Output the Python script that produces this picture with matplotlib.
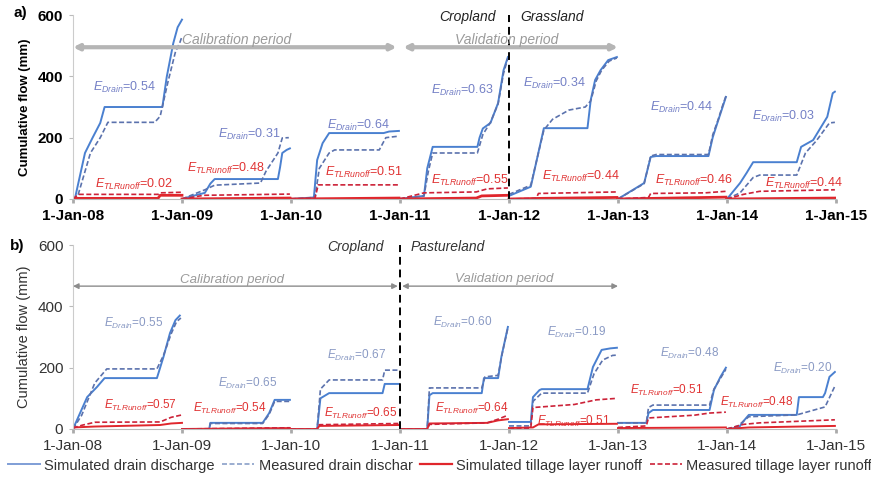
import matplotlib.pyplot as plt
import numpy as np
from matplotlib.lines import Line2D

plt.rcParams['font.family'] = ['Liberation Sans', 'DejaVu Sans']
plt.rcParams['mathtext.fontset'] = 'custom'
plt.rcParams['mathtext.rm'] = 'Liberation Sans'
plt.rcParams['mathtext.it'] = 'Liberation Sans:italic'

nan = np.nan
# x = years since 1-Jan-2008, each year cumulates from zero again
year_ticks = [0, 1, 2, 3, 4, 5, 6, 7]
tick_labels = ['1-Jan-08', '1-Jan-09', '1-Jan-10', '1-Jan-11', '1-Jan-12', '1-Jan-13', '1-Jan-14', '1-Jan-15']

# ---- panel a ----
a_sim_drain = [(0, 0), (0.02, 5), (0.11, 150), (0.18, 200), (0.25, 248), (0.29, 300), (0.82, 300), (0.86, 398), (0.92, 508), (0.96, 560), (1.0, 585), (nan, nan),
               (1.0, 0), (1.1, 10), (1.21, 20), (1.26, 50), (1.30, 65), (1.88, 65), (1.90, 104), (1.92, 150), (1.96, 160), (1.99, 165), (nan, nan),
               (2.0, 0), (2.21, 5), (2.24, 127), (2.29, 182), (2.35, 215), (2.85, 215), (2.9, 220), (2.99, 222), (nan, nan),
               (3.0, 0), (3.1, 5), (3.22, 10), (3.25, 100), (3.30, 170), (3.71, 170), (3.73, 200), (3.76, 230), (3.83, 248), (3.9, 313), (3.95, 420), (3.99, 463), (nan, nan),
               (4.0, 10), (4.2, 40), (4.32, 231), (4.72, 231), (4.75, 323), (4.79, 388), (4.84, 420), (4.91, 453), (4.99, 463), (nan, nan),
               (5.0, 0), (5.24, 52), (5.3, 137), (5.35, 140), (5.83, 140), (5.87, 202), (5.92, 257), (5.96, 300), (5.99, 333), (nan, nan),
               (6.0, 0), (6.12, 52), (6.18, 85), (6.24, 120), (6.64, 120), (6.68, 170), (6.79, 192), (6.92, 268), (6.97, 345), (6.99, 350)]
a_meas_drain = [(0, 0), (0.04, 5), (0.16, 150), (0.25, 200), (0.32, 250), (0.75, 250), (0.8, 270), (0.87, 380), (0.94, 480), (0.98, 510), (1.0, 530), (nan, nan),
                (1.0, 0), (1.21, 30), (1.3, 45), (1.72, 52), (1.77, 90), (1.88, 150), (1.92, 199), (1.98, 200), (nan, nan),
                (2.0, 0), (2.22, 5), (2.26, 100), (2.35, 150), (2.4, 160), (2.81, 160), (2.87, 200), (2.99, 205), (nan, nan),
                (3.0, 0), (3.22, 10), (3.26, 90), (3.30, 150), (3.71, 150), (3.76, 210), (3.83, 250), (3.9, 310), (3.95, 410), (3.99, 460), (nan, nan),
                (4.0, 15), (4.2, 45), (4.32, 225), (4.4, 260), (4.55, 290), (4.7, 300), (4.75, 320), (4.8, 385), (4.85, 420), (4.92, 450), (4.99, 460), (nan, nan),
                (5.0, 0), (5.24, 50), (5.3, 140), (5.35, 145), (5.83, 145), (5.87, 210), (5.92, 260), (5.96, 305), (5.99, 335), (nan, nan),
                (6.0, 0), (6.12, 20), (6.24, 70), (6.3, 78), (6.64, 78), (6.72, 150), (6.82, 190), (6.94, 248), (6.99, 250)]
a_sim_tl = [(0, 2), (0.78, 2), (0.8, 12), (1.0, 12), (nan, nan),
            (1.0, 0), (1.99, 3), (nan, nan),
            (2.0, 0), (2.99, 3), (nan, nan),
            (3.0, 0), (3.7, 3), (3.75, 10), (3.99, 12), (nan, nan),
            (4.0, 0), (4.3, 2), (4.99, 5), (nan, nan),
            (5.0, 0), (5.99, 6), (nan, nan),
            (6.0, 0), (6.99, 3)]
a_meas_tl = [(0, 0), (0.05, 15), (0.78, 15), (0.8, 20), (1.0, 22), (nan, nan),
             (1.0, 0), (1.2, 12), (1.99, 16), (nan, nan),
             (2.0, 0), (2.22, 2), (2.25, 46), (2.99, 46), (nan, nan),
             (3.0, 0), (3.22, 20), (3.7, 23), (3.8, 33), (3.99, 36), (nan, nan),
             (4.0, 0), (4.25, 2), (4.27, 18), (4.99, 23), (nan, nan),
             (5.0, 0), (5.28, 5), (5.3, 18), (5.8, 20), (5.99, 25), (nan, nan),
             (6.0, 0), (6.15, 15), (6.3, 25), (6.99, 30)]
a_e_drain = ['0.54', '0.31', '0.64', '0.63', '0.34', '0.44', '0.03']
a_e_tl = ['0.02', '0.48', '0.51', '0.55', '0.44', '0.46', '0.44']

# ---- panel b ----
b_sim_drain = [(0, 0), (0.13, 104), (0.22, 137), (0.29, 166), (0.77, 166), (0.83, 235), (0.89, 313), (0.94, 355), (0.98, 370), (nan, nan),
               (1.0, 0), (1.25, 0), (1.26, 20), (1.74, 20), (1.8, 52), (1.85, 95), (1.99, 95), (nan, nan),
               (2.0, 0), (2.24, 0), (2.27, 100), (2.35, 117), (2.84, 117), (2.86, 147), (2.99, 147), (nan, nan),
               (3.0, 0), (3.25, 0), (3.27, 110), (3.3, 117), (3.75, 117), (3.77, 166), (3.9, 166), (3.93, 235), (3.99, 333), (nan, nan),
               (4.0, 23), (4.2, 23), (4.22, 104), (4.28, 127), (4.3, 130), (4.72, 130), (4.77, 202), (4.85, 258), (4.93, 263), (4.99, 265), (nan, nan),
               (5.0, 20), (5.26, 20), (5.28, 52), (5.32, 62), (5.84, 62), (5.88, 127), (5.94, 170), (5.99, 200), (nan, nan),
               (6.0, 0), (6.11, 5), (6.15, 25), (6.2, 46), (6.64, 46), (6.66, 104), (6.88, 104), (6.9, 117), (6.94, 170), (6.99, 186)]
b_meas_drain = [(0, 0), (0.08, 45), (0.2, 150), (0.31, 196), (0.77, 196), (0.83, 240), (0.9, 310), (0.95, 350), (0.99, 362), (nan, nan),
                (1.0, 0), (1.25, 0), (1.26, 18), (1.74, 18), (1.8, 48), (1.85, 90), (1.99, 90), (nan, nan),
                (2.0, 0), (2.24, 0), (2.27, 130), (2.35, 160), (2.84, 160), (2.86, 192), (2.99, 192), (nan, nan),
                (3.0, 0), (3.25, 0), (3.27, 134), (3.75, 134), (3.78, 170), (3.9, 175), (3.94, 250), (3.99, 330), (nan, nan),
                (4.0, 10), (4.2, 10), (4.22, 90), (4.3, 117), (4.72, 117), (4.78, 180), (4.86, 225), (4.95, 240), (4.99, 241), (nan, nan),
                (5.0, 20), (5.26, 20), (5.28, 70), (5.32, 78), (5.84, 78), (5.88, 130), (5.94, 165), (5.99, 195), (nan, nan),
                (6.0, 0), (6.1, 10), (6.2, 40), (6.64, 46), (6.9, 72), (6.95, 110), (6.99, 140)]
b_sim_tl = [(0, 5), (0.2, 8), (0.8, 13), (0.9, 18), (1.0, 20), (nan, nan),
            (1.0, 0), (1.99, 3), (nan, nan),
            (2.0, 0), (2.24, 0), (2.26, 10), (2.99, 13), (nan, nan),
            (3.0, 0), (3.25, 0), (3.27, 18), (3.8, 20), (3.9, 28), (3.99, 32), (nan, nan),
            (4.0, 3), (4.22, 5), (4.27, 15), (4.99, 17), (nan, nan),
            (5.0, 3), (5.99, 5), (nan, nan),
            (6.0, 0), (6.2, 5), (6.99, 10)]
b_meas_tl = [(0, 3), (0.08, 12), (0.2, 22), (0.8, 23), (0.9, 38), (1.0, 46), (nan, nan),
             (1.0, 0), (1.99, 4), (nan, nan),
             (2.0, 0), (2.24, 0), (2.26, 14), (2.99, 18), (nan, nan),
             (3.0, 0), (3.25, 0), (3.27, 15), (3.8, 20), (3.9, 32), (3.99, 45), (nan, nan),
             (4.0, 0), (4.2, 3), (4.22, 70), (4.6, 80), (4.8, 95), (4.99, 100), (nan, nan),
             (5.0, 5), (5.26, 10), (5.28, 36), (5.7, 45), (5.84, 52), (5.99, 55), (nan, nan),
             (6.0, 0), (6.15, 15), (6.3, 20), (6.99, 30)]
b_e_drain = ['0.55', '0.65', '0.67', '0.60', '0.19', '0.48', '0.20']
b_e_tl = ['0.57', '0.54', '0.65', '0.64', '0.51', '0.51', '0.48']

# label anchor points (x, y in data units)
a_drain_pos = [(0.18, 365), (1.33, 209), (2.33, 241), (3.28, 355), (4.13, 378), (5.29, 297), (6.23, 268)]
a_tl_pos = [(0.2, 46), (1.05, 101), (2.31, 85), (3.28, 62), (4.3, 72), (5.34, 62), (6.35, 52)]
b_drain_pos = [(0.28, 345), (1.33, 150), (2.33, 241), (3.3, 349), (4.35, 316), (5.39, 248), (6.42, 199)]
b_tl_pos = [(0.28, 78), (1.1, 68), (2.3, 52), (3.32, 68), (4.26, 23), (5.11, 127), (5.94, 85)]

BLUE = '#4a80d0'
BLUE_D = '#5b72ad'
RED = '#e0262c'
RED_D = '#cc2238'
BLUE_TXT = '#7480c6'
RED_TXT = '#e03333'


def draw(ax, pts, **kw):
    arr = np.array(pts, dtype=float)
    ax.plot(arr[:, 0], arr[:, 1], **kw)


fig = plt.figure(figsize=(8.71, 4.79), dpi=100)
ax_a = fig.add_axes([0.0838, 0.5846, 0.876, 0.384])
ax_b = fig.add_axes([0.0838, 0.1044, 0.876, 0.384])

for ax, sd, md, st, mt in [(ax_a, a_sim_drain, a_meas_drain, a_sim_tl, a_meas_tl),
                           (ax_b, b_sim_drain, b_meas_drain, b_sim_tl, b_meas_tl)]:
    draw(ax, sd, color=BLUE, lw=1.4)
    draw(ax, md, color=BLUE_D, lw=1.2, ls=(0, (3, 1.5)))
    draw(ax, st, color=RED, lw=2.0 if ax is ax_a else 1.4)
    draw(ax, mt, color=RED_D, lw=1.2, ls=(0, (3, 1.5)))
    ax.set_xlim(0, 7)
    ax.set_ylim(0, 600)
    ax.set_xticks(year_ticks)
    ax.set_xticklabels(tick_labels)
    ax.set_yticks([0, 200, 400, 600])
    for s in ['top', 'right']:
        ax.spines[s].set_visible(False)
    ax.spines['left'].set_color('#cccccc')
    ax.spines['bottom'].set_color('#bbbbbb')
    ax.tick_params(axis='y', length=3, color='#bbbbbb', pad=4)
    ax.tick_params(axis='x', length=3, width=2, color='#aaaaaa', pad=4)

# panel a styling (bold, blurry look in original)
ax_a.tick_params(labelsize=11)
for lab in ax_a.get_xticklabels() + ax_a.get_yticklabels():
    lab.set_fontweight('bold')
ax_a.set_ylabel('Cumulative flow (mm)', fontsize=9.5, fontweight='bold', labelpad=5)
ax_b.tick_params(labelsize=11, labelcolor='#333333')
ax_b.set_ylabel('Cumulative flow (mm)', fontsize=10.5, color='#333333', labelpad=5)

for (x, y), e in zip(a_drain_pos, a_e_drain):
    ax_a.text(x, y, r'$E_{Drain}$=' + e, color=BLUE_TXT, fontsize=9, va='center')
for (x, y), e in zip(a_tl_pos, a_e_tl):
    ax_a.text(x, y, r'$E_{TLRunoff}$=' + e, color=RED_TXT, fontsize=9, va='center')
for (x, y), e in zip(b_drain_pos, b_e_drain):
    ax_b.text(x, y, r'$E_{Drain}$=' + e, color='#8a9ac4', fontsize=8.5, va='center')
for (x, y), e in zip(b_tl_pos, b_e_tl):
    ax_b.text(x, y, r'$E_{TLRunoff}$=' + e, color=RED_TXT, fontsize=8.5, va='center')

# periods
ax_a.annotate('', xy=(0, 495), xytext=(2.97, 495),
              arrowprops=dict(arrowstyle='<|-|>', color='#b5b5b5', lw=3, mutation_scale=8, shrinkA=0, shrinkB=0))
ax_a.annotate('', xy=(3.03, 495), xytext=(5.0, 495),
              arrowprops=dict(arrowstyle='<|-|>', color='#b5b5b5', lw=3, mutation_scale=8, shrinkA=0, shrinkB=0))
ax_a.text(1.5, 520, 'Calibration period', color='#9a9a9a', fontsize=10, style='italic', ha='center', va='center')
ax_a.text(3.98, 520, 'Validation period', color='#9a9a9a', fontsize=10, style='italic', ha='center', va='center')
ax_a.plot([4, 4], [0, 600], color='black', lw=1.4, ls=(0, (4, 2.5)), clip_on=False)
ax_a.text(3.88, 593, 'Cropland', fontsize=10, style='italic', ha='right', va='center', color='#222222')
ax_a.text(4.1, 593, 'Grassland', fontsize=10, style='italic', ha='left', va='center', color='#222222')

ax_b.annotate('', xy=(0, 466), xytext=(2.98, 466),
              arrowprops=dict(arrowstyle='<|-|>', color='#8c8c8c', lw=1, mutation_scale=8, shrinkA=0, shrinkB=0))
ax_b.annotate('', xy=(3.02, 466), xytext=(5.0, 466),
              arrowprops=dict(arrowstyle='<|-|>', color='#8c8c8c', lw=1, mutation_scale=8, shrinkA=0, shrinkB=0))
ax_b.text(1.46, 487, 'Calibration period', color='#9a9a9a', fontsize=9.5, style='italic', ha='center', va='center')
ax_b.text(3.96, 489, 'Validation period', color='#9a9a9a', fontsize=9.5, style='italic', ha='center', va='center')
ax_b.plot([3, 3], [0, 600], color='black', lw=1.4, ls=(0, (4, 2.5)))
ax_b.text(2.85, 593, 'Cropland', fontsize=10, style='italic', ha='right', va='center', color='#333333')
ax_b.text(3.1, 593, 'Pastureland', fontsize=10, style='italic', ha='left', va='center', color='#333333')

fig.text(0.015, 0.972, 'a)', fontsize=11, fontweight='bold', va='center')
fig.text(0.011, 0.487, 'b)', fontsize=11, fontweight='bold', va='center')

handles = [Line2D([], [], color='#7f9ed6', lw=1.4),
           Line2D([], [], color='#8aa0c8', lw=1.2, ls=(0, (3, 1.5))),
           Line2D([], [], color=RED, lw=1.6),
           Line2D([], [], color=RED_D, lw=1.2, ls=(0, (3, 1.5)))]
labels = ['Simulated drain discharge', 'Measured drain dischar',
          'Simulated tillage layer runoff', 'Measured tillage layer runoff']
fig.legend(handles, labels, loc='center', bbox_to_anchor=(0.505, 0.028), ncol=4, frameon=False,
           fontsize=10.5, handlelength=2.2, handletextpad=0.3, columnspacing=0.5, labelcolor='#333333',
           borderpad=0, borderaxespad=0)

fig.savefig('out.png', dpi=100)
